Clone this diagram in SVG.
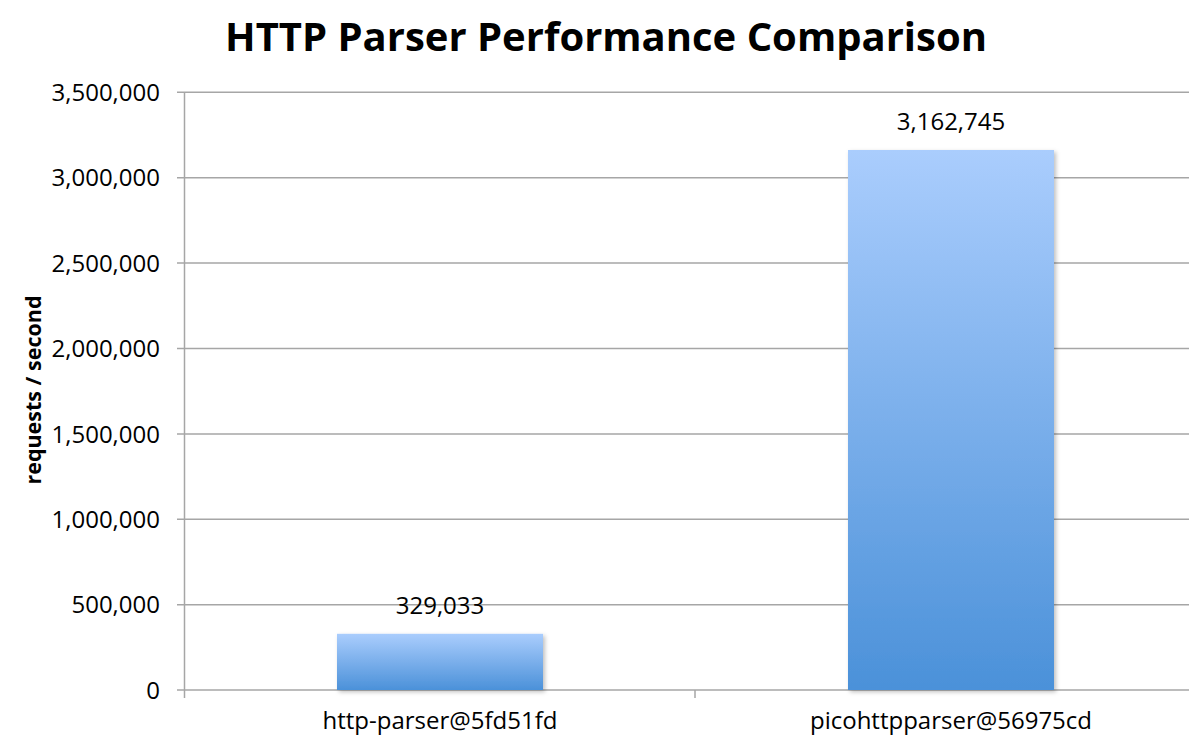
<svg xmlns="http://www.w3.org/2000/svg" width="1189" height="739" viewBox="0 0 1189 739">
  <style>
    .grid { stroke: #a6a6a6; stroke-width: 1.5; fill: none; }
    .tick { font-family: "Open Sans", "Liberation Sans", sans-serif; font-size: 24px; fill: #000; text-anchor: end; }
    .cat { font-family: "Open Sans", "Liberation Sans", sans-serif; font-size: 24px; fill: #000; text-anchor: middle; }
    .val { font-family: "Open Sans", "Liberation Sans", sans-serif; font-size: 24px; fill: #000; text-anchor: middle; }
    .title { font-family: "Open Sans", "Liberation Sans", sans-serif; font-size: 40px; font-weight: bold; fill: #000; text-anchor: middle; }
    .ytitle { font-family: "Open Sans", "Liberation Sans", sans-serif; font-size: 21.5px; font-weight: bold; fill: #000; text-anchor: middle; }
  </style>
  <defs>
    <linearGradient id="barGrad" x1="0" y1="0" x2="0" y2="1">
      <stop offset="0" stop-color="#aacdfd"/>
      <stop offset="1" stop-color="#4b91d9"/>
    </linearGradient>
    <filter id="shadow" x="-10%" y="-10%" width="125%" height="125%">
      <feDropShadow dx="2" dy="2" stdDeviation="2" flood-color="#000" flood-opacity="0.25"/>
    </filter>
  </defs>
  <rect width="1189" height="739" fill="#fff"/>

  <text class="title" x="606" y="51">HTTP Parser Performance Comparison</text>

  <g id="axes">
    <line class="grid" x1="177" y1="92.3" x2="1189" y2="92.3"/>
    <line class="grid" x1="177" y1="177.7" x2="1189" y2="177.7"/>
    <line class="grid" x1="177" y1="263.1" x2="1189" y2="263.1"/>
    <line class="grid" x1="177" y1="348.5" x2="1189" y2="348.5"/>
    <line class="grid" x1="177" y1="433.9" x2="1189" y2="433.9"/>
    <line class="grid" x1="177" y1="519.3" x2="1189" y2="519.3"/>
    <line class="grid" x1="177" y1="604.7" x2="1189" y2="604.7"/>
    <line class="grid" x1="177" y1="690" x2="1189" y2="690"/>
    <line class="grid" x1="184.5" y1="92.3" x2="184.5" y2="698"/>
    <line class="grid" x1="695" y1="690" x2="695" y2="698"/>
  </g>

  <g id="ticks">
    <text class="tick" x="160" y="101">3,500,000</text>
    <text class="tick" x="160" y="186">3,000,000</text>
    <text class="tick" x="160" y="272">2,500,000</text>
    <text class="tick" x="160" y="357">2,000,000</text>
    <text class="tick" x="160" y="443">1,500,000</text>
    <text class="tick" x="160" y="528">1,000,000</text>
    <text class="tick" x="160" y="613">500,000</text>
    <text class="tick" x="160" y="699">0</text>
  </g>

  <text class="ytitle" transform="translate(41,390) rotate(-90)">requests / second</text>

  <g id="bar-http-parser">
    <rect x="337" y="633.8" width="206" height="56.2" fill="url(#barGrad)" filter="url(#shadow)"/>
    <text class="val" x="440" y="614">329,033</text>
    <text class="cat" x="440" y="729">http-parser@5fd51fd</text>
  </g>

  <g id="bar-picohttpparser">
    <rect x="848" y="150" width="206" height="540" fill="url(#barGrad)" filter="url(#shadow)"/>
    <text class="val" x="951" y="130">3,162,745</text>
    <text class="cat" x="951" y="729">picohttpparser@56975cd</text>
  </g>
</svg>
